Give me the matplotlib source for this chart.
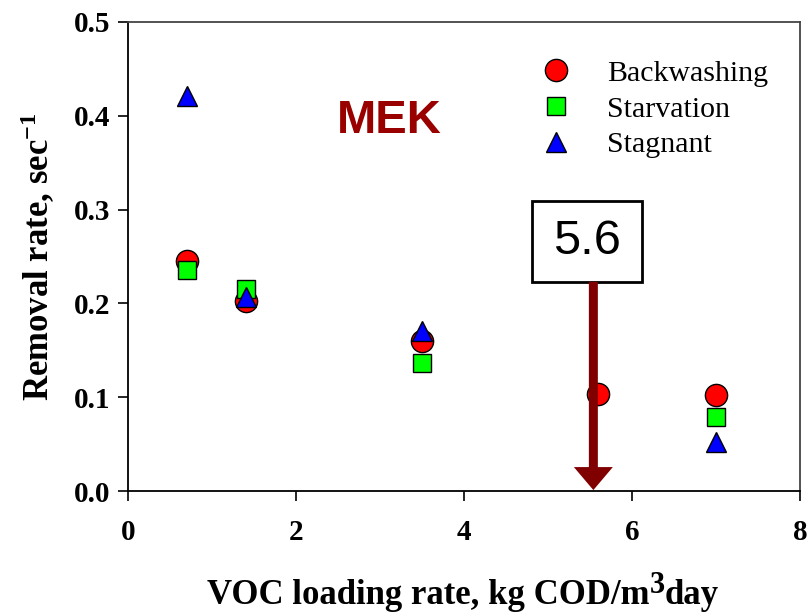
import matplotlib
matplotlib.use("Agg")
import matplotlib.pyplot as plt
from matplotlib.patches import Rectangle, FancyArrow
from matplotlib.transforms import offset_copy

plt.rcParams['font.family'] = 'Liberation Serif'
plt.rcParams['mathtext.fontset'] = 'custom'
plt.rcParams['mathtext.rm'] = 'Liberation Serif:bold'
plt.rcParams['mathtext.it'] = 'Liberation Serif:bold'
plt.rcParams['mathtext.bf'] = 'Liberation Serif:bold'

# data
x_back = [0.7, 1.4, 3.5, 5.6, 7.0]
y_back = [0.245, 0.203, 0.160, 0.103, 0.102]
x_starv = [0.7, 1.4, 3.5, 7.0]
y_starv = [0.236, 0.215, 0.136, 0.079]
x_stag = [0.7, 1.4, 3.5, 7.0]
y_stag = [0.421, 0.207, 0.171, 0.052]

marker_x = 5.54
marker_label = "5.6"

fig = plt.figure(figsize=(8.11, 6.16), dpi=100)
ax = fig.add_axes([128/811, 1-491/616, (800-128)/811, (491-22)/616])

ax.plot(x_back, y_back, 'o', ms=16, mfc='#ff0000', mec='black', mew=1, label='Backwashing', zorder=3)
ax.plot(x_starv, y_starv, 's', ms=13, mfc='#00ff00', mec='black', mew=1, label='Starvation', zorder=4)
ax.plot(x_stag, y_stag, '^', ms=15, mfc='#0000ff', mec='black', mew=1, label='Stagnant', zorder=5)

ax.set_xlim(0, 8)
ax.set_ylim(0, 0.5)
ax.set_xticks([0, 2, 4, 6, 8])
ax.set_yticks([0.0, 0.1, 0.2, 0.3, 0.4, 0.5])
ax.set_yticklabels(['0.0', '0.1', '0.2', '0.3', '0.4', '0.5'])
ax.tick_params(direction='out', length=7, width=1.2, top=False, right=False)
ax.tick_params(axis='x', pad=13)
ax.tick_params(axis='y', pad=6)
for lab in ax.get_xticklabels() + ax.get_yticklabels():
    lab.set_fontsize(21)
    lab.set_fontweight('bold')
for side in ['left', 'bottom']:
    ax.spines[side].set_linewidth(1.3)
for side in ['top', 'right']:
    ax.spines[side].set_linewidth(1.3)
    ax.spines[side].set_color('#444444')

# x label in pieces so the superscript 3 stays large
renderer = fig.canvas.get_renderer()
xl_parts = ['VOC loading rate, kg COD/m', '3', 'day']
xl_sizes = [25, 22, 25]
xl_rise = [0, 11, 0]
widths = []
for txt, fs in zip(xl_parts, xl_sizes):
    t = fig.text(0, 0, txt, fontsize=fs, fontweight='bold')
    widths.append(t.get_window_extent(renderer).width)
    t.remove()
x0 = 463 - sum(widths) / 2
base = 616 - 604
for txt, fs, w, r in zip(xl_parts, xl_sizes, widths, xl_rise):
    fig.text(x0 / 811, (base + r) / 616, txt, fontsize=fs, fontweight='bold',
             ha='left', va='baseline')
    x0 += w

ax.set_ylabel('Removal rate, sec$^{-1}$', fontsize=25, fontweight='bold', labelpad=12)

ax.text(3.11, 0.394, 'MEK', fontsize=34, fontweight='bold', color='#990000',
        family='Liberation Sans', ha='center', va='center')

# arrow with label box
ax.add_patch(FancyArrow(marker_x, 0.223, 0, -0.222, width=0.107, head_width=0.464,
                        head_length=0.0245, length_includes_head=True,
                        color='#800000', lw=0, zorder=8))
ax.add_patch(Rectangle((4.81, 0.223), 1.31, 0.086, fill=True, fc='white',
                       ec='black', lw=2, zorder=6))
ax.text(5.46, 0.266, marker_label, fontsize=35, family='Liberation Sans',
        ha='center', va='center', zorder=7)

leg = ax.legend(loc='upper left', bbox_to_anchor=(0.597, 0.945), frameon=False,
                fontsize=21.5, handlelength=1.0, handletextpad=1.2,
                labelspacing=0.3, borderaxespad=0)

fig.savefig('out.png', dpi=100)
